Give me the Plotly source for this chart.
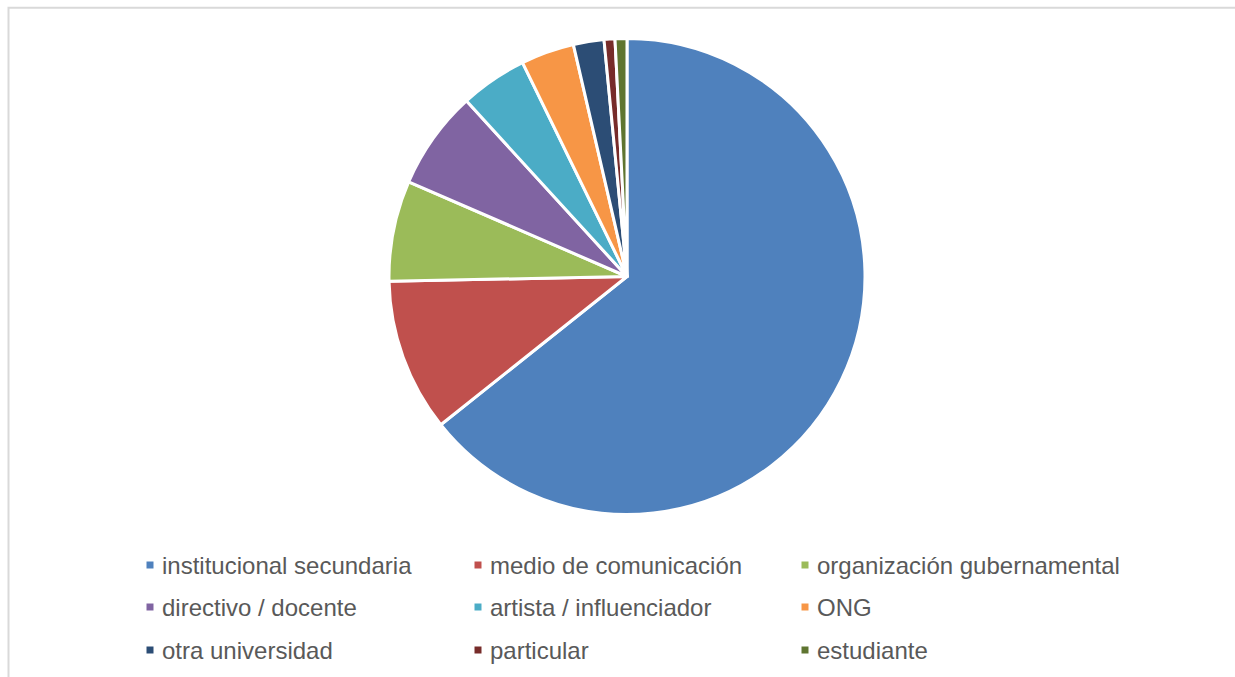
import plotly.graph_objects as go

# Share of contacts by type of requesting entity
labels = [
    "institucional secundaria",
    "medio de comunicación",
    "organización gubernamental",
    "directivo / docente",
    "artista / influenciador",
    "ONG",
    "otra universidad",
    "particular",
    "estudiante",
]
values = [96, 15.5, 10.2, 10.0, 6.8, 5.4, 3.1, 1.1, 1.2]
colors = ["#4F81BD", "#C0504D", "#9BBB59", "#8064A2", "#4BACC6",
          "#F79646", "#2C4D75", "#772C2A", "#5F7530"]

W, H = 1235, 677

fig = go.Figure(
    go.Pie(
        labels=labels,
        values=values,
        sort=False,
        direction="clockwise",
        rotation=0,
        marker=dict(colors=colors, line=dict(color="white", width=3)),
        textinfo="none",
        hoverinfo="label+percent",
        showlegend=False,
        domain=dict(x=[389 / W, 865 / W], y=[1 - 515 / H, 1 - 38 / H]),
    )
)

# Legend laid out as a 3-column grid below the pie
col_x = [150, 478, 805]
row_y = [565, 607, 650]
shapes = []
annotations = []
for i, (lab, col) in enumerate(zip(labels, colors)):
    cx = col_x[i % 3]
    cy = row_y[i // 3]
    shapes.append(dict(
        type="rect", xref="paper", yref="paper",
        x0=(cx - 3.5) / W, x1=(cx + 3.5) / W,
        y0=1 - (cy + 3.5) / H, y1=1 - (cy - 3.5) / H,
        fillcolor=col, line=dict(width=0),
    ))
    annotations.append(dict(
        text=lab, xref="paper", yref="paper",
        x=(cx + 10) / W, y=1 - cy / H,
        xanchor="left", yanchor="middle", showarrow=False,
        font=dict(family="Liberation Sans, Arial, sans-serif", size=24, color="#595959"),
    ))

# Chart frame (continues past the right and bottom edges)
shapes.append(dict(
    type="rect", xref="paper", yref="paper",
    x0=8.5 / W, x1=1.02, y0=-0.02, y1=1 - 7.8 / H,
    line=dict(color="#D9D9D9", width=2), fillcolor="rgba(0,0,0,0)",
    layer="below",
))

fig.update_layout(
    width=W, height=H,
    margin=dict(l=0, r=0, t=0, b=0),
    paper_bgcolor="white",
    plot_bgcolor="white",
    shapes=shapes,
    annotations=annotations,
)

fig.write_html("out.html")
